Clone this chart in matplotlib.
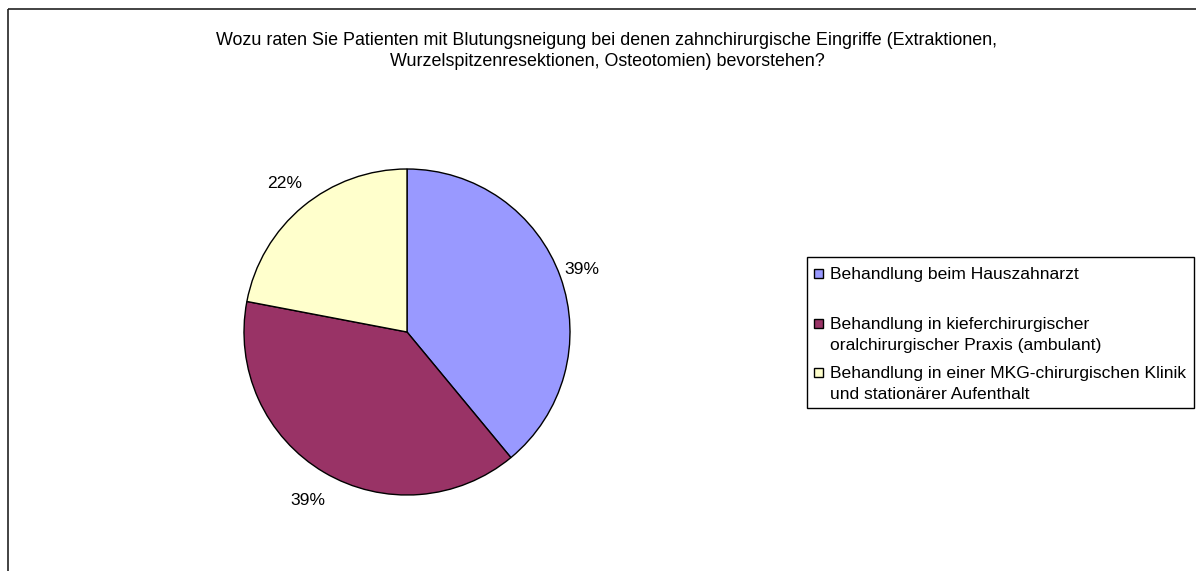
import matplotlib.pyplot as plt
from matplotlib.patches import Rectangle
from matplotlib.transforms import Affine2D
import numpy as np

plt.rcParams['font.family'] = ['Liberation Sans', 'DejaVu Sans']

title = ("Wozu raten Sie Patienten mit Blutungsneigung bei denen zahnchirurgische Eingriffe (Extraktionen,\n"
         "Wurzelspitzenresektionen, Osteotomien) bevorstehen?")
categories = [
    "Behandlung beim Hauszahnarzt",
    "Behandlung in kieferchirurgischer\noralchirurgischer Praxis (ambulant)",
    "Behandlung in einer MKG-chirurgischen Klinik\nund stationärer Aufenthalt",
]
shares = [39, 39, 22]
colors = ["#9999FF", "#993366", "#FFFFCC"]

W, H = 1196, 571
fig = plt.figure(figsize=(W / 100, H / 100), dpi=100)
# pixel coords with origin at top-left
px = Affine2D().scale(1 / W, -1 / H).translate(0, 1) + fig.transFigure

FS = 12.6

# outer chart frame (right/bottom edges fall outside the picture)
fig.patches.append(Rectangle((8, 9), 1300, 700, transform=px, fill=False,
                             edgecolor="#222222", lw=1.2))

fig.text(607, 51, title, transform=px, ha="center", va="center",
         fontsize=12.9, linespacing=1.25)

# pie
cx, cy, R = 407, 332, 163
k = 1.3
ax = fig.add_axes([(cx - R * k) / W, 1 - (cy + R * k) / H, 2 * R * k / W, 2 * R * k / H])
wedges, _ = ax.pie(shares, colors=colors, startangle=90, counterclock=False,
                   wedgeprops=dict(edgecolor="black", linewidth=1))
ax.set_xlim(-k, k)
ax.set_ylim(-k, k)
ax.set_aspect("equal")

label_dist = [1.14, 1.2, 1.18]
for w, v, d in zip(wedges, shares, label_dist):
    mid = np.deg2rad((w.theta1 + w.theta2) / 2)
    ax.text(d * np.cos(mid), d * np.sin(mid), f"{v}%", ha="center", va="center",
            fontsize=FS)

# legend box
fig.patches.append(Rectangle((807, 257), 387, 151, transform=px, fill=False,
                             edgecolor="black", lw=1))
rows = [274, 324, 373]
for y, lab, c in zip(rows, categories, colors):
    fig.patches.append(Rectangle((814, y - 5), 9, 9, transform=px,
                                 facecolor=c, edgecolor="black", lw=1))
    fig.text(830, y - 7, lab, transform=px, ha="left", va="top",
             fontsize=FS, linespacing=1.5)

fig.savefig("out.png", dpi=100)
